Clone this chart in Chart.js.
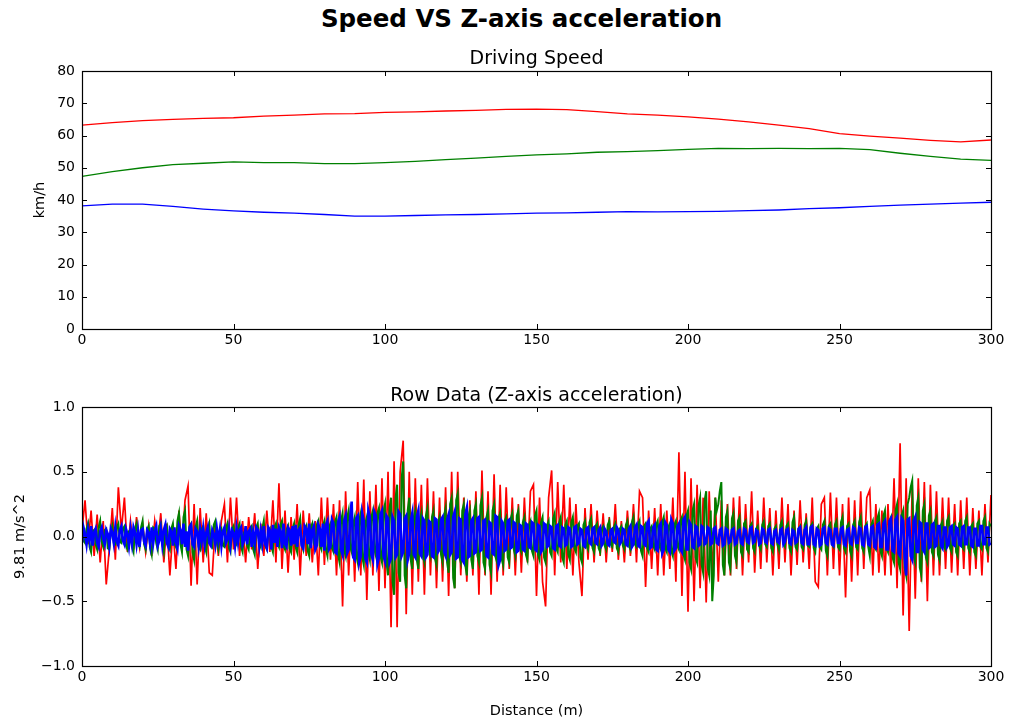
<!DOCTYPE html>
<html>
<head>
<meta charset="utf-8">
<title>Speed VS Z-axis acceleration</title>
<script src="https://cdn.jsdelivr.net/npm/chart.js@4.4.1/dist/chart.umd.min.js"></script>
<style>
    body { margin: 0; background: #fff; width: 1010px; height: 721px; overflow: hidden; position: relative; font-family: "DejaVu Sans", sans-serif; }
    #mainTitle { position: absolute; left: 0; top: 4px; width: 1043px; text-align: center; font-weight: bold; font-size: 24.5px; color: #000; }
    #speedBox { position: absolute; left: 0; top: 0; width: 1010px; height: 359px; }
    #accelBox { position: absolute; left: 0; top: 370px; width: 1010px; height: 351px; }
</style>
</head>
<body>
<div id="mainTitle">Speed VS Z-axis acceleration</div>
<div id="speedBox"><canvas id="speedChart"></canvas></div>
<div id="accelBox"><canvas id="accelChart"></canvas></div>
<script>
// axis ticks
const speedTicks = [0, 10, 20, 30, 40, 50, 60, 70, 80];
const accelTicks = [-1, -0.5, 0, 0.5, 1];
const distanceTicks = [0, 50, 100, 150, 200, 250, 300];

// driving speed (km/h), sampled every 10 m
const speedDistance = [0, 10, 20, 30, 40, 50, 60, 70, 80, 90, 100, 110, 120, 130, 140, 150,
    160, 170, 180, 190, 200, 210, 220, 230, 240, 250, 260, 270, 280, 290, 300];
const speedRed = [63.2, 64.0, 64.6, 65.0, 65.3, 65.5, 66.0, 66.3, 66.7, 66.8, 67.2, 67.3, 67.6, 67.8, 68.1, 68.2,
    68.0, 67.4, 66.7, 66.3, 65.8, 65.1, 64.2, 63.2, 62.1, 60.6, 59.8, 59.2, 58.5, 58.0, 58.6];
const speedGreen = [47.3, 48.8, 50.0, 51.0, 51.4, 51.8, 51.6, 51.6, 51.3, 51.3, 51.6, 52.0, 52.5, 53.0, 53.5, 54.0,
    54.3, 54.8, 55.0, 55.3, 55.7, 56.0, 55.9, 56.0, 55.9, 56.0, 55.6, 54.5, 53.5, 52.7, 52.3];
const speedBlue = [38.2, 38.7, 38.7, 38.0, 37.2, 36.6, 36.2, 35.9, 35.5, 35.0, 35.0, 35.2, 35.4, 35.5, 35.7, 35.9,
    36.0, 36.2, 36.4, 36.3, 36.4, 36.5, 36.7, 36.9, 37.3, 37.6, 38.0, 38.4, 38.7, 39.0, 39.3];

// raw z-axis acceleration (g) from 0 to 300 m
// red: one sample per metre
const accelRedStep = 1;
const accelRed = [
    0.05, 0.28, -0.06, 0.2, -0.15, 0.17, -0.2, 0.12, -0.37, -0.1,
    0.22, -0.18, 0.38, 0.05, 0.3, -0.12, 0.12, -0.1, 0.15, -0.08,
    0.1, -0.12, 0.08, -0.15, 0.12, -0.05, 0.18, -0.2, 0.1, -0.3,
    0.05, -0.25, 0.2, -0.1, 0.28, 0.39, -0.38, 0.25, -0.37, 0.22,
    -0.2, 0.18, -0.28, -0.3, 0.1, -0.15, 0.12, 0.25, -0.2, 0.3,
    -0.1, 0.3, -0.15, 0.12, -0.2, 0.15, -0.1, 0.18, -0.25, 0.1,
    -0.15, 0.2, -0.12, 0.28, -0.2, 0.41, -0.25, 0.2, -0.28, 0.15,
    -0.18, 0.25, -0.3, 0.2, -0.15, 0.18, -0.2, 0.12, -0.3, 0.3,
    -0.22, 0.3, -0.18, 0.25, -0.3, 0.28, -0.54, 0.35, -0.3, 0.25,
    -0.35, 0.42, -0.3, 0.44, -0.49, 0.35, -0.3, 0.4, -0.42, 0.45,
    -0.4, 0.5, -0.7, 0.58, -0.7, 0.5, 0.74, -0.6, 0.5, -0.45,
    0.45, -0.35, 0.4, -0.45, 0.45, -0.3, 0.35, -0.4, 0.3, -0.35,
    0.38, -0.46, 0.5, -0.4, 0.5, -0.3, 0.3, -0.35, 0.28, -0.3,
    0.35, -0.45, 0.51, -0.3, 0.35, -0.45, 0.48, -0.35, 0.4, -0.3,
    0.38, -0.25, 0.3, -0.3, 0.25, -0.28, 0.3, -0.2, 0.35, 0.4,
    -0.46, 0.3, -0.35, -0.54, 0.3, 0.51, -0.3, 0.42, -0.2, 0.4,
    -0.25, 0.3, -0.3, 0.25, -0.2, -0.46, 0.22, -0.18, 0.25, -0.2,
    0.2, -0.15, 0.18, -0.2, 0.15, -0.12, 0.25, -0.18, 0.12, -0.2,
    0.2, -0.15, 0.25, -0.2, 0.35, 0.3, -0.39, 0.2, -0.25, 0.22,
    -0.3, 0.25, -0.3, 0.2, -0.25, 0.3, -0.35, 0.65, -0.46, 0.5,
    -0.58, 0.45, -0.5, 0.4, -0.4, 0.3, -0.51, 0.35, -0.3, 0.3,
    -0.35, 0.28, -0.3, 0.25, -0.3, 0.3, -0.25, 0.31, -0.3, 0.25,
    -0.2, 0.35, -0.28, 0.2, -0.25, 0.3, -0.2, 0.22, -0.3, 0.2,
    -0.25, 0.3, -0.2, 0.25, -0.3, 0.2, -0.22, 0.28, -0.2, 0.18,
    -0.25, 0.3, -0.35, -0.39, 0.25, 0.3, -0.3, 0.34, -0.25, 0.3,
    -0.3, 0.25, -0.47, 0.3, -0.35, 0.28, -0.3, 0.35, -0.25, 0.3,
    0.36, -0.3, 0.25, -0.28, 0.2, -0.3, 0.25, -0.3, 0.45, -0.4,
    0.72, -0.61, 0.45, -0.73, 0.4, -0.48, 0.45, -0.35, 0.42, -0.5,
    0.4, -0.3, 0.35, -0.3, 0.3, -0.25, 0.3, -0.28, 0.25, -0.3,
    0.28, -0.25, 0.3, -0.3, 0.22, -0.25, 0.2, -0.3, 0.25, -0.2, 0.32
];
// green: two samples per metre
const accelGreenStep = 0.5;
const accelGreen = [
    0.08, -0.03, -0.05, 0.06, 0.1, -0.08, -0.12, 0.04, 0.05, -0.06, -0.1, 0.07, 0.12, -0.04, -0.08, 0.05, 0.06, -0.09, -0.1, 0.03,
    0.08, -0.05, -0.06, 0.07, 0.1, -0.04, -0.05, 0.06, 0.08, -0.07, -0.1, 0.04, 0.05, -0.08, -0.12, 0.06, 0.1, -0.05, -0.08, 0.07,
    0.12, -0.06, -0.1, 0.05, 0.08, -0.09, -0.14, 0.07, 0.06, -0.05, -0.1, 0.08, 0.1, -0.06, -0.12, 0.05, 0.08, -0.07, -0.1, 0.06,
    0.1, -0.05, -0.08, 0.12, 0.18, -0.06, -0.12, 0.15, 0.2, -0.1, -0.15, 0.08, 0.1, -0.12, -0.18, 0.07, 0.12, -0.08, -0.1, 0.06,
    0.08, -0.07, -0.12, 0.05, 0.1, -0.06, -0.08, 0.09, 0.12, -0.05, -0.1, 0.04, 0.06, -0.07, -0.08, 0.06, 0.1, -0.09, -0.12, 0.05,
    0.08, -0.04, -0.06, 0.07, 0.1, -0.08, -0.12, 0.03, 0.05, -0.07, -0.1, 0.06, 0.08, -0.1, -0.14, 0.07, 0.1, -0.05, -0.08, 0.06,
    0.12, -0.07, -0.1, 0.04, 0.06, -0.08, -0.12, 0.07, 0.1, -0.05, -0.08, 0.09, 0.12, -0.07, -0.1, 0.05, 0.08, -0.09, -0.12, 0.06,
    0.1, -0.08, -0.12, 0.09, 0.14, -0.06, -0.1, 0.05, 0.08, -0.11, -0.15, 0.07, 0.1, -0.05, -0.08, 0.09, 0.12, -0.07, -0.1, 0.08,
    0.12, -0.1, -0.15, 0.07, 0.1, -0.09, -0.12, 0.11, 0.15, -0.14, -0.2, 0.12, 0.18, -0.1, -0.15, 0.14, 0.2, -0.08, -0.12, 0.1,
    0.15, -0.14, -0.2, 0.12, 0.18, -0.16, -0.22, 0.1, 0.15, -0.12, -0.18, 0.15, 0.2, -0.1, -0.15, 0.18, 0.22, -0.15, -0.2, 0.19,
    0.25, -0.2, -0.3, 0.22, 0.3, -0.35, -0.45, 0.3, 0.4, -0.28, -0.35, 0.45, 0.58, -0.3, -0.4, 0.2, 0.3, -0.18, -0.25, 0.15,
    0.2, -0.18, -0.25, 0.12, 0.18, -0.15, -0.2, 0.16, 0.22, -0.1, -0.15, 0.15, 0.2, -0.17, -0.22, 0.1, 0.15, -0.14, -0.2, 0.16,
    0.22, -0.2, -0.28, 0.25, 0.3, -0.32, -0.4, 0.28, 0.33, -0.15, -0.2, 0.2, 0.25, -0.22, -0.3, 0.15, 0.2, -0.18, -0.25, 0.2,
    0.25, -0.15, -0.2, 0.24, 0.3, -0.2, -0.25, 0.15, 0.2, -0.22, -0.28, 0.2, 0.25, -0.16, -0.2, 0.14, 0.18, -0.17, -0.22, 0.12,
    0.15, -0.16, -0.2, 0.14, 0.18, -0.1, -0.15, 0.16, 0.2, -0.09, -0.12, 0.11, 0.15, -0.14, -0.18, 0.09, 0.12, -0.11, -0.15, 0.16,
    0.2, -0.14, -0.18, 0.11, 0.15, -0.16, -0.2, 0.09, 0.12, -0.12, -0.15, 0.14, 0.18, -0.09, -0.12, 0.11, 0.15, -0.16, -0.2, 0.09,
    0.12, -0.14, -0.18, 0.11, 0.15, -0.09, -0.12, 0.08, 0.1, -0.16, -0.2, 0.09, 0.12, -0.07, -0.1, 0.11, 0.14, -0.09, -0.12, 0.08,
    0.1, -0.09, -0.12, 0.06, 0.08, -0.07, -0.1, 0.09, 0.12, -0.06, -0.08, 0.07, 0.1, -0.09, -0.12, 0.06, 0.08, -0.07, -0.1, 0.09,
    0.12, -0.07, -0.1, 0.11, 0.15, -0.06, -0.08, 0.09, 0.12, -0.11, -0.15, 0.08, 0.1, -0.09, -0.12, 0.06, 0.08, -0.07, -0.1, 0.09,
    0.12, -0.07, -0.1, 0.11, 0.15, -0.09, -0.12, 0.07, 0.1, -0.11, -0.15, 0.09, 0.12, -0.07, -0.1, 0.12, 0.15, -0.14, -0.18, 0.16,
    0.2, -0.2, -0.25, 0.2, 0.25, -0.16, -0.2, 0.24, 0.3, -0.22, -0.28, 0.28, 0.35, -0.24, -0.3, 0.2, -0.5, -0.3, 0.3, 0.2,
    0.25, 0.35, 0.42, -0.22, -0.3, 0.15, 0.2, -0.2, -0.25, 0.14, 0.18, -0.15, -0.2, 0.12, 0.15, -0.12, -0.15, 0.1, 0.12, -0.1,
    -0.12, 0.08, 0.1, -0.09, -0.12, 0.06, 0.08, -0.07, -0.1, 0.09, 0.12, -0.06, -0.08, 0.08, 0.1, -0.09, -0.12, 0.06, 0.08, -0.06,
    -0.1, 0.09, 0.12, -0.06, -0.08, 0.08, 0.1, -0.09, -0.12, 0.11, 0.15, -0.08, -0.1, 0.06, 0.08, -0.08, -0.1, 0.09, 0.12, -0.07,
    -0.08, 0.08, 0.1, -0.09, -0.12, 0.06, 0.08, -0.08, -0.1, 0.09, 0.12, -0.11, -0.15, 0.08, 0.1, -0.06, -0.08, 0.09, 0.12, -0.08,
    -0.1, 0.11, 0.15, -0.09, -0.12, 0.08, 0.1, -0.11, -0.15, 0.09, 0.12, -0.08, -0.1, 0.11, 0.15, -0.09, -0.12, 0.08, 0.1, -0.08,
    -0.15, 0.09, 0.12, -0.08, -0.1, 0.14, 0.18, -0.11, -0.15, 0.16, 0.2, -0.09, -0.12, 0.12, 0.15, -0.16, -0.2, 0.2, 0.25, -0.2,
    -0.25, 0.16, 0.2, -0.24, -0.3, 0.25, 0.3, 0.38, 0.43, -0.15, -0.2, 0.24, 0.3, -0.24, -0.3, 0.2, 0.25, -0.16, -0.2, 0.16,
    0.2, -0.12, -0.15, 0.12, 0.15, -0.14, -0.18, 0.09, 0.12, -0.08, -0.1, 0.12, 0.15, -0.09, -0.12, 0.08, 0.1, -0.12, -0.15, 0.1,
    0.12, -0.08, -0.1, 0.12, 0.15, -0.09, -0.12, 0.08, 0.1, -0.12, -0.15, 0.1, 0.12, -0.08, -0.1, 0.12, 0.15, -0.09, -0.12, 0.1,
    0.08
];
// blue: two samples per metre
const accelBlueStep = 0.5;
const accelBlue = [
    -0.05, 0.07, 0.02, -0.06, 0.05, -0.03, 0.08, -0.07, 0.03, 0.06, -0.05, -0.08, 0.04, 0.07, -0.02, -0.06, 0.05, 0.02, -0.07, 0.06,
    0.03, -0.05, 0.07, -0.04, -0.07, 0.05, 0.08, -0.03, -0.06, 0.06, 0.02, -0.07, 0.05, -0.05, 0.07, 0.03, -0.06, 0.04, -0.08, 0.05,
    0.06, -0.04, -0.07, 0.05, 0.03, -0.06, 0.07, -0.05, 0.04, 0.08, -0.07, -0.03, 0.06, -0.06, 0.05, 0.09, -0.05, -0.08, 0.06, 0.04,
    -0.07, 0.07, -0.04, -0.09, 0.08, 0.05, -0.06, 0.1, -0.08, 0.04, -0.11, 0.07, 0.09, -0.06, -0.08, 0.06, 0.04, -0.07, 0.05, -0.04,
    0.06, -0.06, 0.03, 0.07, -0.05, -0.07, 0.05, 0.02, -0.06, 0.06, -0.03, 0.05, -0.07, 0.04, 0.07, -0.05, -0.02, 0.06, -0.06, 0.05,
    0.03, -0.07, 0.06, -0.04, 0.05, 0.07, -0.06, -0.03, 0.08, -0.06, 0.04, 0.06, -0.08, 0.03, -0.05, 0.07, 0.05, -0.07, 0.04, -0.05,
    0.08, -0.06, -0.09, 0.07, 0.05, -0.1, 0.09, -0.05, 0.06, -0.08, 0.07, 0.04, -0.09, 0.1, -0.06, -0.08, 0.07, 0.05, -0.07, 0.08,
    -0.06, 0.09, -0.08, 0.05, 0.07, -0.07, -0.09, 0.08, 0.06, -0.06, 0.1, -0.09, 0.05, 0.08, -0.1, -0.07, 0.09, 0.06, -0.08, 0.1,
    -0.11, 0.09, 0.12, -0.1, -0.08, 0.13, 0.1, -0.12, -0.13, 0.11, 0.15, -0.1, -0.14, 0.12, 0.16, -0.13, -0.1, 0.14, 0.27, -0.16,
    -0.18, 0.14, 0.16, -0.2, -0.15, 0.18, 0.12, -0.17, -0.2, 0.2, 0.15, -0.14, -0.18, 0.19, 0.16, -0.21, -0.16, 0.17, 0.2, -0.15,
    -0.19, 0.16, 0.14, -0.2, -0.17, 0.15, 0.12, -0.16, -0.14, 0.19, 0.17, -0.15, -0.12, 0.14, 0.16, -0.18, -0.13, 0.12, 0.18, -0.14,
    -0.16, 0.15, 0.2, -0.13, -0.15, 0.14, 0.12, -0.16, -0.14, 0.12, 0.11, -0.15, -0.16, 0.14, 0.13, -0.12, -0.1, 0.13, 0.15, -0.12,
    -0.15, 0.13, 0.17, -0.14, -0.12, 0.15, 0.19, -0.17, -0.16, 0.14, 0.13, -0.18, -0.2, 0.17, 0.22, -0.16, -0.15, 0.12, 0.14, -0.13,
    -0.12, 0.14, 0.15, -0.11, -0.1, 0.12, 0.13, -0.15, -0.16, 0.11, 0.1, -0.13, -0.14, 0.16, 0.15, -0.22, -0.18, 0.12, 0.1, -0.11,
    -0.1, 0.12, 0.13, -0.09, -0.08, 0.11, 0.1, -0.12, -0.11, 0.09, 0.08, -0.1, -0.11, 0.1, 0.09, -0.08, -0.09, 0.11, 0.1, -0.1,
    -0.11, 0.09, 0.08, -0.12, -0.1, 0.1, 0.09, -0.08, -0.07, 0.08, 0.07, -0.09, -0.1, 0.08, 0.09, -0.07, -0.08, 0.07, 0.06, -0.07,
    -0.06, 0.07, 0.06, -0.08, -0.07, 0.07, 0.08, -0.06, -0.05, 0.06, 0.05, -0.07, -0.08, 0.06, 0.07, -0.05, -0.06, 0.06, 0.07, -0.05,
    -0.06, 0.05, 0.07, -0.07, -0.05, 0.06, 0.04, -0.06, -0.07, 0.05, 0.06, -0.04, -0.05, 0.07, 0.05, -0.06, -0.04, 0.06, 0.05, -0.06,
    -0.07, 0.06, 0.08, -0.08, -0.06, 0.07, 0.09, -0.07, -0.08, 0.08, 0.07, -0.06, -0.07, 0.1, 0.12, -0.09, -0.08, 0.07, 0.09, -0.1,
    -0.11, 0.08, 0.1, -0.13, -0.1, 0.11, 0.09, -0.1, -0.12, 0.13, 0.1, -0.11, -0.09, 0.08, 0.1, -0.1, -0.12, 0.13, 0.15, -0.1,
    -0.1, 0.11, 0.09, -0.08, -0.09, 0.08, 0.07, -0.07, -0.06, 0.08, 0.07, -0.06, -0.05, 0.07, 0.06, -0.06, -0.05, 0.06, 0.07, -0.05,
    -0.06, 0.05, 0.06, -0.07, -0.06, 0.06, 0.05, -0.05, -0.04, 0.05, 0.06, -0.06, -0.05, 0.04, 0.05, -0.05, -0.06, 0.06, 0.05, -0.04,
    -0.05, 0.06, 0.07, -0.05, -0.04, 0.05, 0.04, -0.06, -0.05, 0.06, 0.05, -0.04, -0.05, 0.05, 0.06, -0.05, -0.06, 0.04, 0.05, -0.04,
    -0.05, 0.05, 0.06, -0.06, -0.04, 0.05, 0.06, -0.05, -0.06, 0.05, 0.04, -0.05, -0.04, 0.06, 0.07, -0.05, -0.06, 0.05, 0.07, -0.06,
    -0.06, 0.07, 0.08, -0.06, -0.07, 0.06, 0.05, -0.07, -0.06, 0.06, 0.07, -0.05, -0.06, 0.06, 0.05, -0.06, -0.07, 0.06, 0.06, -0.05,
    -0.05, 0.06, 0.07, -0.06, -0.07, 0.05, 0.06, -0.05, -0.06, 0.07, 0.06, -0.05, -0.05, 0.07, 0.06, -0.06, -0.07, 0.07, 0.08, -0.06,
    -0.07, 0.07, 0.08, -0.08, -0.09, 0.09, 0.1, -0.08, -0.08, 0.1, 0.12, -0.1, -0.1, 0.12, 0.14, -0.11, -0.12, 0.13, 0.15, -0.13,
    -0.15, 0.14, 0.12, -0.16, -0.3, 0.13, 0.14, -0.15, -0.18, 0.12, 0.15, -0.12, -0.12, 0.11, 0.1, -0.1, -0.12, 0.1, 0.1, -0.09,
    -0.08, 0.09, 0.1, -0.08, -0.07, 0.08, 0.08, -0.07, -0.09, 0.07, 0.07, -0.08, -0.06, 0.07, 0.08, -0.06, -0.07, 0.07, 0.06, -0.06,
    -0.07, 0.07, 0.08, -0.06, -0.06, 0.07, 0.07, -0.07, -0.08, 0.06, 0.06, -0.07, -0.07, 0.08, 0.08, -0.06, -0.06, 0.07, 0.07, -0.06,
    -0.05
];

const FONT = "'DejaVu Sans', sans-serif";

// pair x values with y values for the linear x axis
const toPoints = (xs, ys) => ys.map((y, i) => ({ x: xs[i], y }));
const stepPoints = (ys, step) => ys.map((y, i) => ({ x: i * step, y }));

// box around the plot area and inward tick marks on all four sides
const innerTicks = {
    id: "innerTicks",
    afterDatasetsDraw(chart) {
        const { ctx, chartArea: a, scales } = chart;
        const len = 5;
        ctx.save();
        ctx.strokeStyle = "#000";
        ctx.lineWidth = 1;
        ctx.beginPath();
        scales.x.ticks.forEach((t) => {
            const px = Math.round(scales.x.getPixelForValue(t.value)) + 0.5;
            ctx.moveTo(px, a.top);
            ctx.lineTo(px, a.top + len);
            ctx.moveTo(px, a.bottom);
            ctx.lineTo(px, a.bottom - len);
        });
        scales.y.ticks.forEach((t) => {
            const py = Math.round(scales.y.getPixelForValue(t.value)) + 0.5;
            ctx.moveTo(a.left, py);
            ctx.lineTo(a.left + len, py);
            ctx.moveTo(a.right, py);
            ctx.lineTo(a.right - len, py);
        });
        ctx.stroke();
        ctx.lineWidth = 1.2;
        ctx.strokeRect(Math.round(a.left) + 0.5, Math.round(a.top) + 0.5,
            Math.round(a.right - a.left), Math.round(a.bottom - a.top));
        ctx.restore();
    },
};

const tickFont = { family: FONT, size: 14 };

const makeScales = (yTicks, yMin, yMax, yTitle, yTitlePad, yFormat, xTitle) => ({
    x: {
        type: "linear",
        min: 0,
        max: 300,
        afterBuildTicks: (s) => { s.ticks = distanceTicks.map((v) => ({ value: v })); },
        afterFit: (s) => { s.height = xTitle ? 55 : 30; },
        grid: { display: false, drawTicks: false },
        border: { display: false },
        ticks: { color: "#000", font: tickFont, padding: 3, maxRotation: 0, autoSkip: false },
        title: {
            display: !!xTitle,
            text: xTitle || "",
            color: "#000",
            font: { family: FONT, size: 14.5 },
            padding: { top: 0, bottom: 1 },
        },
    },
    y: {
        min: yMin,
        max: yMax,
        afterBuildTicks: (s) => { s.ticks = yTicks.map((v) => ({ value: v })); },
        afterFit: (s) => { s.width = 82; },
        grid: { display: false, drawTicks: false },
        border: { display: false },
        ticks: { color: "#000", font: tickFont, padding: 7, autoSkip: false, callback: yFormat },
        title: {
            display: true,
            text: yTitle,
            color: "#000",
            font: { family: FONT, size: 14.5 },
            padding: { top: yTitlePad, bottom: 0 },
        },
    },
});

const lineSet = (label, data, color, order, width) => ({
    label,
    data,
    borderColor: color,
    backgroundColor: color,
    borderWidth: width,
    pointRadius: 0,
    tension: 0,
    order,
});

// driving speed
new Chart(document.getElementById("speedChart"), {
    type: "line",
    data: {
        datasets: [
            lineSet("red", toPoints(speedDistance, speedRed), "#ff0000", 2, 1.3),
            lineSet("green", toPoints(speedDistance, speedGreen), "#008000", 1, 1.3),
            lineSet("blue", toPoints(speedDistance, speedBlue), "#0000ff", 0, 1.3),
        ],
    },
    options: {
        responsive: true,
        maintainAspectRatio: false,
        animation: false,
        layout: { padding: { left: 0, right: 19, top: 0, bottom: 0 } },
        scales: makeScales(speedTicks, 0, 80, "km/h", 32, (v) => String(v), null),
        plugins: {
            legend: { display: false },
            tooltip: { enabled: false },
            title: {
                display: true,
                text: "Driving Speed",
                fullSize: false,
                color: "#000",
                font: { family: FONT, size: 19, weight: "normal" },
                padding: { top: 47.6, bottom: 0.6 },
            },
        },
    },
    plugins: [innerTicks],
});

// raw z-axis acceleration
new Chart(document.getElementById("accelChart"), {
    type: "line",
    data: {
        datasets: [
            lineSet("red", stepPoints(accelRed, accelRedStep), "#ff0000", 2, 1.7),
            lineSet("green", stepPoints(accelGreen, accelGreenStep), "#008000", 1, 2),
            lineSet("blue", stepPoints(accelBlue, accelBlueStep), "#0000ff", 0, 2.6),
        ],
    },
    options: {
        responsive: true,
        maintainAspectRatio: false,
        animation: false,
        layout: { padding: { left: 0, right: 19, top: 0, bottom: 0 } },
        scales: makeScales(accelTicks, -1, 1, "9.81 m/s^2", 12,
            (v) => v.toFixed(1).replace("-", "\u2212"), "Distance (m)"),
        plugins: {
            legend: { display: false },
            tooltip: { enabled: false },
            title: {
                display: true,
                text: "Row Data (Z-axis acceleration)",
                fullSize: false,
                color: "#000",
                font: { family: FONT, size: 19, weight: "normal" },
                padding: { top: 14.2, bottom: 0 },
            },
        },
    },
    plugins: [innerTicks],
});
</script>
</body>
</html>
